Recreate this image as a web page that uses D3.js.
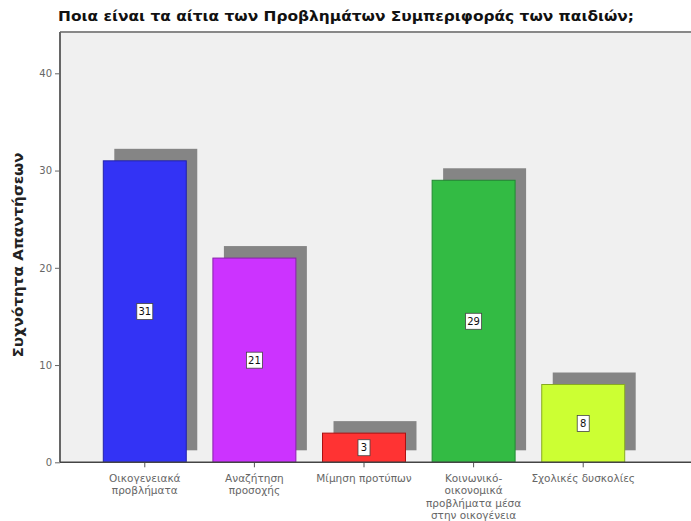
<!DOCTYPE html>
<html><head><meta charset="utf-8">
<script src="https://cdn.jsdelivr.net/npm/d3@7"></script>
<style>body{margin:0;background:#fff}svg{display:block}text{font-family:"DejaVu Sans",sans-serif}</style>
</head><body>
<svg id="c" width="691" height="521"></svg>
<script>
const title = "Ποια είναι τα αίτια των Προβλημάτων Συμπεριφοράς των παιδιών;";
const yLabel = "Συχνότητα Απαντήσεων";
const categories = [
  ["Οικογενειακά","προβλήματα"],
  ["Αναζήτηση","προσοχής"],
  ["Μίμηση προτύπων"],
  ["Κοινωνικό-","οικονομικά","προβλήματα μέσα","στην οικογένεια"],
  ["Σχολικές δυσκολίες"]
];
const values = [31, 21, 3, 29, 8];
const colors = ["#3333f5", "#cc33ff", "#ff3333", "#33bb44", "#ccff33"];
const strokes = ["#2222aa", "#8822aa", "#aa1111", "#228833", "#88aa22"];
const yTicks = [0, 10, 20, 30, 40];

const svg = d3.select("#c");
const keys = categories.map(c => c.join(" "));
const x = d3.scaleBand().domain(keys).range([60, 668]).paddingInner(0.243).paddingOuter(0.395);
const y = d3.scaleLinear().domain([0, 40]).range([462.3, 73.3]);
const pTop = 32, pLeft = 60, pBottom = y(0);

// plot background
svg.append("rect").attr("x", pLeft).attr("y", pTop).attr("width", 700 - pLeft).attr("height", pBottom - pTop).attr("fill", "#f0f0f0");
svg.append("line").attr("x1", pLeft).attr("x2", 700).attr("y1", pTop).attr("y2", pTop).attr("stroke", "#888").attr("stroke-width", 2);

const dx = 11, dy = -12;
// shadows
svg.selectAll("rect.sh").data(values).join("rect").attr("class","sh")
  .attr("x", (d,i) => x(keys[i]) + dx).attr("width", x.bandwidth())
  .attr("y", d => y(d) + dy).attr("height", d => pBottom - y(d))
  .attr("fill", "#858585");
// bars
svg.selectAll("rect.bar").data(values).join("rect").attr("class","bar")
  .attr("x", (d,i) => x(keys[i])).attr("width", x.bandwidth())
  .attr("y", d => y(d)).attr("height", d => pBottom - y(d))
  .attr("fill", (d,i) => colors[i]).attr("stroke", (d,i) => strokes[i]).attr("stroke-width", 1);

// value labels
const lab = svg.selectAll("g.vl").data(values).join("g").attr("class","vl")
  .attr("transform", (d,i) => `translate(${x(keys[i]) + x.bandwidth()/2},${(y(d)+pBottom)/2})`);
lab.append("rect").attr("x", d => d >= 10 ? -8 : -6).attr("y", -8).attr("width", d => d >= 10 ? 16 : 12).attr("height", 16)
  .attr("fill", "#fff").attr("stroke", "#444").attr("stroke-width", 0.8);
lab.append("text").attr("text-anchor", "middle").attr("dy", "0.35em").attr("font-size", 10)
  .attr("font-family", "Liberation Sans, Arial, sans-serif").attr("fill", "#111").text(d => d);

// y axis
const ya = svg.append("g").attr("transform", `translate(${pLeft},0)`)
  .call(d3.axisLeft(y).tickValues(yTicks).tickSize(5).tickPadding(3));
ya.select(".domain").remove();
ya.selectAll("line").attr("stroke", "#666");
ya.selectAll("text").attr("font-size", 10).attr("fill", "#666").attr("font-family", "Liberation Sans, Arial, sans-serif");
svg.append("line").attr("x1", pLeft).attr("x2", pLeft).attr("y1", pTop).attr("y2", pBottom).attr("stroke", "#666").attr("stroke-width", 2);

// x axis
const xa = svg.append("g").attr("transform", `translate(0,${pBottom})`)
  .call(d3.axisBottom(x).tickSize(5).tickFormat(""));
xa.select(".domain").remove();
xa.selectAll("line").attr("stroke", "#555");
svg.append("line").attr("x1", pLeft).attr("x2", 700).attr("y1", pBottom).attr("y2", pBottom).attr("stroke", "#444").attr("stroke-width", 1.5);

categories.forEach((lines, i) => {
  const cx = x(keys[i]) + x.bandwidth()/2;
  const t = svg.append("text").attr("text-anchor", "middle").attr("font-size", 10.5).attr("fill", "#666")
    .attr("x", cx).attr("y", 482);
  lines.forEach((l, j) => t.append("tspan").attr("x", cx).attr("dy", j ? 12.3 : 0).text(l));
});

svg.append("text").attr("x", 58).attr("y", 21).attr("font-size", 14.5).attr("font-weight", "bold").attr("fill", "#111")
  .attr("textLength", 576).attr("lengthAdjust", "spacingAndGlyphs").text(title);
svg.append("text").attr("transform", "translate(23,255) rotate(-90)").attr("text-anchor", "middle")
  .attr("font-size", 14).attr("font-weight", "bold").attr("fill", "#222")
  .attr("textLength", 205).attr("lengthAdjust", "spacingAndGlyphs").text(yLabel);
</script>
</body></html>
